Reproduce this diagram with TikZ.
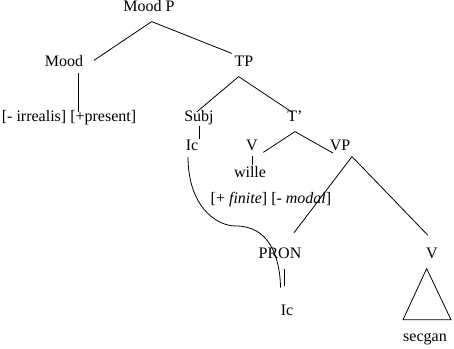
\documentclass[tikz,border=0pt]{standalone}
\usepackage{fontspec}
\setmainfont{Liberation Serif}
\usepackage{tikz}
\usetikzlibrary{positioning,calc}
\tikzset{
    treeLabel/.style={
        inner sep=2pt,
        text height=8pt,
        text depth=2pt,
        font=\fontsize{12}{14}\selectfont
    },
    treeEdge/.style={draw=black, line width=0.6pt}
}

\begin{document}
\begin{tikzpicture}[
    x=0.75pt, y=-0.75pt,
    lbl/.style={treeLabel},
    edge/.style={treeEdge}
]
\useasboundingbox (0,0) rectangle (454,349);

% labels of the tree
\node[lbl] (moodp) at (149,8) {Mood P};
\node[lbl] (mood) at (64,63) {Mood};
\node[lbl] (tp) at (244,63) {TP};
\node[lbl] (feat1) at (69,118) {[- irrealis] [+present]};
\node[lbl] (subj) at (199,118) {Subj};
\node[lbl] (tbar) at (295,118) {T'};
\node[lbl] (ic) at (192,147) {Ic};
\node[lbl] (v) at (252,147) {V};
\node[lbl] (vp) at (340,147) {VP};
\node[lbl] (wille) at (250,174) {wille};
\node[lbl] (feat2) at (271,200) {[+ \textit{finite}] [- \textit{modal}]};
\node[lbl] (pron) at (280,255) {PRON};
\node[lbl] (vv) at (432,255) {V};
\node[lbl] (ic2) at (287,312) {Ic};
\node[lbl] (secgan) at (425,338) {secgan};

% branches
\draw[edge] ([xshift=2pt,yshift=-3pt]moodp.south) -- ([xshift=6pt,yshift=2pt]mood.east);
\draw[edge] ([xshift=2pt,yshift=-3pt]moodp.south) -- (tp.north west);
\draw[edge] ([xshift=10.5pt]mood.south) -- ([xshift=10.5pt,yshift=-3pt]mood.south |- feat1.north);
\draw[edge] ([xshift=-4pt,yshift=-3pt]tp.south) -- ([xshift=-1.5pt,yshift=-2.5pt]subj.north);
\draw[edge] ([xshift=-4pt,yshift=-3pt]tp.south) -- ([xshift=-2pt,yshift=-3pt]tbar.north);
\draw[edge] ([yshift=1.5pt]subj.south) -- ([yshift=-1pt]subj.south |- ic.north);
\draw[edge] ([yshift=-3pt]tbar.south) -- ([xshift=2pt,yshift=-4pt]v.east);
\draw[edge] ([yshift=-3pt]tbar.south) -- ([xshift=4.5pt,yshift=-4.5pt]vp.west);
\draw[edge] ([yshift=0.5pt]v.south) -- ([yshift=-0.5pt]v.south |- wille.north);
\draw[edge] ([xshift=9pt]vp.south) -- ([xshift=10.5pt,yshift=9.5pt]pron.north);
\draw[edge] ([xshift=9pt]vp.south) -- ([xshift=-3pt,yshift=7.5pt]vv.north);
\draw[edge] ([xshift=3pt,yshift=-3pt]pron.south) -- ([xshift=3pt,yshift=12pt]pron.south |- ic2.north);

% binding line from Ic down to the pronoun
\draw[edge] ([xshift=-3pt]ic.south) .. controls (188,205) and (215,226) .. (236,226)
    .. controls (268,226) and (280,255) .. ([xshift=2pt,yshift=11pt]ic2.north west);

% triangle over secgan
\draw[edge] ([xshift=-4pt,yshift=-3pt]vv.south) -- ([xshift=-16.5pt,yshift=6.5pt]secgan.north)
    -- ([xshift=19.5pt,yshift=6.5pt]secgan.north) -- cycle;
\end{tikzpicture}
\end{document}
